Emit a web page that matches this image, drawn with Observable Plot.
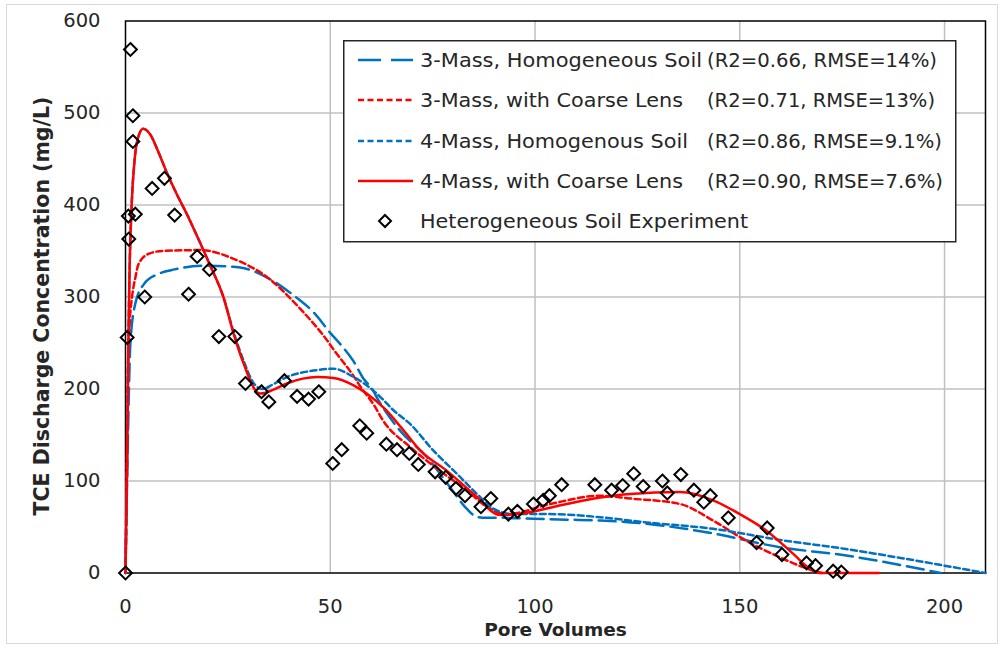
<!DOCTYPE html>
<html>
<head>
<meta charset="utf-8">
<script src="https://cdn.jsdelivr.net/npm/d3@7"></script>
<script src="https://cdn.jsdelivr.net/npm/@observablehq/plot@0.6"></script>
<style>
  html, body { margin: 0; padding: 0; background: white; }
  #wrap { position: relative; width: 1005px; height: 651px; overflow: hidden; }
  #outer { position: absolute; left: 6px; top: 4px; width: 992px; height: 640px; border: 1.5px solid #d9d9d9; box-sizing: border-box; pointer-events: none; }
  #legend { position: absolute; left: 343px; top: 40px; }
</style>
</head>
<body>
<div id="wrap"><div id="outer"></div><div id="chart"></div><svg id="legend" width="614" height="203"></svg></div>
<script>
// ---------- data ----------
const xTicks = [0, 50, 100, 150, 200];
const yTicks = [0, 100, 200, 300, 400, 500, 600];
const xGrid = [50, 100, 150, 200];
const yGrid = [100, 200, 300, 400, 500];

const seriesNames = [
  "3-Mass, Homogeneous Soil",
  "3-Mass, with Coarse Lens",
  "4-Mass, Homogenous Soil",
  "4-Mass, with Coarse Lens"
];
const seriesStats = [
  "(R2=0.66, RMSE=14%)",
  "(R2=0.71, RMSE=13%)",
  "(R2=0.86, RMSE=9.1%)",
  "(R2=0.90, RMSE=7.6%)"
];
const expName = "Heterogeneous Soil Experiment";

// 3-Mass, Homogeneous Soil (blue long dash)
const m3HomX = [0, 0.3, 0.6, 1.2, 2.4, 4.5, 8, 12, 20, 28, 34.6, 41, 46, 50, 52.4, 55.7, 58, 60.2, 62, 67, 73.6, 79.3, 83.3, 85.8, 88, 91.5, 99.6, 107.7, 115.9, 127.2, 143.5, 159.8, 176, 190, 199];
const m3HomY = [0, 80, 150, 250, 293, 314, 325, 330, 334, 332, 321, 302, 283, 261, 249, 230, 212, 200, 186, 155, 126, 93, 70, 61, 60, 60, 59, 58, 57, 53.5, 43, 28, 19, 8, 0];

// 3-Mass, with Coarse Lens (red short dash)
const m3LensX = [0, 0.3, 0.6, 1.0, 1.6, 2.4, 3.2, 5.7, 9, 18.3, 26.4, 34.6, 42.7, 49.2, 50.8, 55.7, 57.3, 60.6, 63, 69.5, 76.8, 83.3, 88.2, 93.1, 103.7, 115.9, 123.2, 135.4, 143.5, 151.6, 159.8, 166.3, 170];
const m3LensY = [0, 120, 220, 270, 300, 321, 336, 347, 350, 351, 341.5, 321.5, 287, 253, 243, 214, 203, 183, 165, 137, 111, 90, 72, 64, 75, 84, 81, 75, 57, 35, 17, 5, 0];

// 4-Mass, Homogenous Soil (blue short dash)
const m4HomX = [0, 0.4, 0.7, 1.0, 1.5, 2.2, 3.0, 4.3, 6, 8, 10.2, 12.5, 15, 17.5, 20.7, 23.9, 26.4, 28.9, 31.5, 33.5, 36, 39.4, 45.9, 50.8, 55.7, 60.6, 63, 65.4, 69.5, 75.2, 80.9, 85.8, 89.8, 94.7, 103.7, 115.9, 127.2, 143.5, 159.8, 176, 183, 210];
const m4HomY = [0, 120, 250, 330, 400, 448, 472, 483, 477, 458, 434, 412, 390, 366, 334, 300, 262, 230, 205, 200, 205, 213, 220, 222, 213, 198, 188, 177, 162, 133, 108, 86, 70, 64, 64, 60.6, 55, 48, 36, 26, 21, 0];

// 4-Mass, with Coarse Lens (red solid)
const m4LensX = [0, 0.4, 0.7, 1.0, 1.5, 2.2, 3.0, 4.3, 6, 8, 10.2, 12.5, 15, 17.5, 20.7, 23.9, 26.4, 28.9, 32.1, 33, 36, 39.4, 46.8, 50.8, 55.7, 58.9, 63.4, 67.9, 72, 78.5, 85, 91.5, 95.5, 107.7, 115.9, 123.2, 135.4, 143.5, 150, 156.5, 163, 167, 169.5, 184];
const m4LensY = [0, 120, 250, 330, 400, 448, 472, 483, 477, 458, 434, 412, 390, 366, 334, 300, 260, 227, 196.5, 195, 199, 206, 213, 212, 204, 195, 178, 155, 133, 111, 86, 63, 64, 75, 82, 86, 88, 79, 64, 46, 21, 5, 0, 0];

// Heterogeneous Soil Experiment (diamonds)
const expX = [0, 0.4, 0.8, 0.7, 2.4, 1.2, 1.8, 1.8, 4.7, 6.5, 9.5, 12, 15.4, 17.5, 20.5, 22.8, 26.7, 29.3, 33.2, 35, 38.8, 41.9, 44.7, 47.2, 50.6, 52.8, 57.2, 58.9, 63.7, 66.3, 69.3, 71.5, 75.6, 78.2, 80.7, 82.9, 86.8, 89.2, 93.5, 95.7, 99.6, 102, 103.5, 106.5, 114.6, 118.7, 121.4, 124.1, 126.4, 131.1, 132.3, 135.6, 138.8, 141.2, 142.8, 147.2, 154.1, 156.7, 160.3, 166.3, 168.5, 172.8, 174.8];
const expY = [0, 256, 363, 388, 390, 569, 497, 469, 300, 418, 429, 389, 303, 344, 330, 257, 257, 206, 197, 186, 209, 192, 189, 197, 119, 134, 160, 152, 140, 134, 130, 118, 110, 104, 92, 84, 72, 81, 64, 67, 75, 79, 84, 96, 96, 90, 95, 108, 94, 100, 87, 107, 90, 77, 84, 60, 33, 49, 20, 11, 8, 2, 1];

// ---------- styles ----------
const BLUE = "#0070C0", RED = "#FF0000";
const seriesX = [m3HomX, m3LensX, m4HomX, m4LensX];
const seriesY = [m3HomY, m3LensY, m4HomY, m4LensY];
const seriesColor = [BLUE, RED, BLUE, RED];
const seriesDash = ["17,7", "6,3.5", "6,3.5", null];
const FONT = "'DejaVu Sans', sans-serif";

const lineMarks = seriesX.map((xs, i) => {
  const data = xs.map((x, j) => ({x, y: seriesY[i][j]}));
  return Plot.line(data, {
    x: "x", y: "y", stroke: seriesColor[i], strokeWidth: 2.5,
    strokeDasharray: seriesDash[i] || undefined, curve: "monotone-x"
  });
});
const expData = expX.map((x, j) => ({x, y: expY[j]}));

const chart = Plot.plot({
  width: 1005, height: 651,
  marginLeft: 125, marginRight: 20, marginTop: 20.5, marginBottom: 78.5,
  x: {domain: [0, 210]},
  y: {domain: [0, 600]},
  style: {fontFamily: FONT, fontSize: "19.5px", background: "transparent", color: "#262626", overflow: "visible"},
  marks: [
    Plot.gridX(xGrid, {stroke: "#c0c0c0", strokeOpacity: 1, strokeWidth: 1.5}),
    Plot.gridY(yGrid, {stroke: "#c0c0c0", strokeOpacity: 1, strokeWidth: 1.5}),
    Plot.frame({stroke: "black", strokeWidth: 1.5}),
    Plot.axisX({ticks: xTicks, tickSize: 0, tickPadding: 26, label: null, fontSize: 19.5}),
    Plot.axisY({ticks: yTicks, tickSize: 0, tickPadding: 25, label: null, fontSize: 19.5}),
    ...lineMarks,
    Plot.dot(expData, {x: "x", y: "y", symbol: "diamond2", r: 5.8, stroke: "black", strokeWidth: 2, fill: "none"}),
    Plot.text(["TCE Discharge Concentration (mg/L)"], {frameAnchor: "left", textAnchor: "middle", rotate: -90, dx: -83, dy: 9, fontWeight: "bold", fontSize: 20.5, fill: "#262626"}),
    Plot.text(["Pore Volumes"], {frameAnchor: "bottom", textAnchor: "middle", dy: 63, fontWeight: "bold", fontSize: 18.5, fill: "#262626"})
  ]
});
document.getElementById("chart").appendChild(chart);

// ---------- legend ----------
const lg = d3.select("#legend");
lg.append("rect").attr("x", 0.75).attr("y", 0.75).attr("width", 612).attr("height", 201)
  .attr("fill", "white").attr("stroke", "#262626").attr("stroke-width", 1.5);
const rowY = [20, 60, 101, 141, 181];
const nameLen = [282, 263, 268, 263, 328];
const statLen = [230, 228, 235, 236];
function legendText(x, y, str, len) {
  lg.append("text").attr("x", x).attr("y", y).attr("dy", "0.36em")
    .attr("font-family", FONT).attr("font-size", 20).attr("fill", "#262626")
    .attr("textLength", len).attr("lengthAdjust", "spacingAndGlyphs").text(str);
}
seriesNames.forEach((name, i) => {
  const l = lg.append("line").attr("x1", 15).attr("x2", 70).attr("y1", rowY[i]).attr("y2", rowY[i])
    .attr("stroke", seriesColor[i]).attr("stroke-width", 2.5);
  if (seriesDash[i]) l.attr("stroke-dasharray", i === 0 ? "23,10" : "6,3.5");
  legendText(77, rowY[i], name, nameLen[i]);
  legendText(364, rowY[i], seriesStats[i], statLen[i]);
});
const dr = 6;
lg.append("path").attr("d", `M42,${rowY[4]-dr}L${42+dr},${rowY[4]}L42,${rowY[4]+dr}L${42-dr},${rowY[4]}Z`)
  .attr("fill", "none").attr("stroke", "black").attr("stroke-width", 2);
legendText(77, rowY[4], expName, nameLen[4]);
</script>
</body>
</html>
